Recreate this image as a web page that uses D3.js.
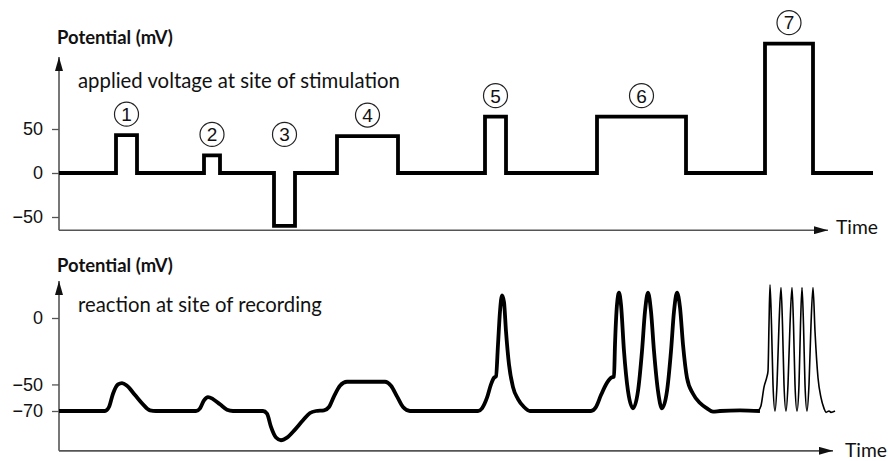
<!DOCTYPE html>
<html>
<head>
<meta charset="utf-8">
<script src="https://cdn.jsdelivr.net/npm/d3@7"></script>
<style>
  body { margin: 0; background: #fff; }
  text { fill: #111; }
</style>
</head>
<body>
<script>
// stimulation pulses: start / end (time units from origin) and level (mV)
const pulseStart = [57, 145, 215, 278, 426, 538, 706];
const pulseEnd   = [78, 161, 236, 339, 447, 627, 754];
const pulseLevel = [43, 20, -60, 42, 64, 64, 147];
const pulseLabels = ["1", "2", "3", "4", "5", "6", "7"];
const stimEnd = 814;

const topTicks = [50, 0, -50];
const bottomTicks = [0, -50, -70];

// recorded membrane potential [time, mV]
const responseTrace = [
  [0,-70],[46,-70],[50,-67],[54,-57],[59,-50],[63,-49],[68,-51],[76,-58],[84,-65],[91,-69.5],[97,-70],
  [137,-70],[141,-68],[145,-62],[149,-59.5],[154,-61],[161,-65],[168,-69],[174,-70],
  [204,-70],[208,-72],[212,-82],[217,-90],[222,-92],[228,-90],[236,-84],[244,-77],[251,-71.5],[257,-70],
  [265,-69.5],[270,-67],[275,-59],[281,-51],[288,-48],
  [326,-48],[332,-51],[338,-59],[344,-67],[351,-70],
  [419,-70],[423,-68],[428,-60],[432,-50],[435,-45],[437,-44],[439,-20],[441,5],[443,17],[445,12],
  [447,-10],[450,-35],[454,-52],[459,-61],[465,-67],[471,-70],
  [532,-70],[537,-67],[542,-58],[547,-50],[552,-45],[555,-44],[556,-20],[558,10],[560,19],[562,10],
  [565,-25],[569,-55],[574,-68],[579,-55],[583,-25],[586,5],[589,19],[592,5],[595,-25],[599,-55],
  [603,-68],[608,-55],[612,-25],[615,5],[618,19],[621,8],[624,-20],[628,-45],[634,-57],[641,-64],
  [648,-68],[654,-70.5],[661,-70],[681,-69.5],[701,-70]
];

// high-frequency burst for stimulus 7 [time, mV]
const burstTrace = [
  [699,-70],[702,-66],[705,-52],[708,-44],[709,-40],[710,-5],[711,25],[712.5,-5],[714,-50],[716,-70],
  [718,-50],[720,-5],[722,23],[723.5,-5],[725,-50],[727,-70],[729,-50],[731,-5],[733,23],[734.5,-5],
  [736,-50],[738,-70],[740,-50],[741.5,-5],[743,23],[744.5,-5],[746,-50],[748,-70],[750,-50],[752,-5],
  [754,23],[756,-10],[759,-45],[762,-60],[765,-68],[767,-71],[770,-70],[772,-71],[776,-70]
];

const W = 888, H = 461;
const svg = d3.select("body").append("svg")
    .attr("width", W)
    .attr("height", H)
    .style("font-family", "Lato, 'Open Sans', sans-serif");

svg.append("defs").append("marker")
    .attr("id", "arrow")
    .attr("viewBox", "0 0 14 8")
    .attr("refX", 14).attr("refY", 4)
    .attr("markerWidth", 14).attr("markerHeight", 8)
    .attr("markerUnits", "userSpaceOnUse")
    .attr("orient", "auto")
    .append("path")
    .attr("d", "M0,0 L14,4 L0,8 Z")
    .attr("fill", "#111");

// scales
const x = d3.scaleLinear().domain([0, 770]).range([59, 829]);
const yTop = d3.scaleLinear().domain([-50, 50]).range([217, 129]);
const yBot = d3.scaleLinear().domain([-70, 0]).range([411, 318]);

// fit a text element to a target width
function fitText(sel, width, base) {
    sel.style("font-size", base + "px");
    const w = sel.node().getComputedTextLength();
    sel.style("font-size", (base * width / w).toFixed(2) + "px");
}

function drawPanel(y, yMin, yTip, xEnd, ticks, title, titleY, note, noteY, noteW, timeX, timeY) {
    const g = svg.append("g");
    const x0 = x(0), yb = y(yMin);

    // axis lines with arrows
    g.append("line")
        .attr("x1", x0).attr("y1", yb).attr("x2", x0).attr("y2", yTip)
        .attr("stroke", "#555").attr("stroke-width", 1.6)
        .attr("marker-end", "url(#arrow)");
    g.append("line")
        .attr("x1", x0).attr("y1", yb).attr("x2", xEnd).attr("y2", yb)
        .attr("stroke", "#555").attr("stroke-width", 1.6)
        .attr("marker-end", "url(#arrow)");

    // ticks
    const axis = g.append("g")
        .attr("transform", "translate(" + x0 + ",0)")
        .call(d3.axisLeft(y).tickValues(ticks).tickSize(7).tickPadding(9));
    axis.select(".domain").remove();
    axis.selectAll(".tick line").attr("stroke", "#555").attr("stroke-width", 1.3);
    axis.selectAll(".tick text")
        .style("font-family", "'Liberation Sans', Arial, sans-serif")
        .style("font-size", "18px")
        .attr("fill", "#222");

    const t = g.append("text")
        .attr("x", 57).attr("y", titleY)
        .style("font-weight", "bold")
        .text(title);
    fitText(t, 116, 16);

    const n = g.append("text")
        .attr("x", 78).attr("y", noteY)
        .text(note);
    fitText(n, noteW, 20);

    const tm = g.append("text")
        .attr("x", timeX).attr("y", timeY)
        .text("Time");
    fitText(tm, 42, 20);
    return g;
}

drawPanel(yTop, -65, 57, 828, topTicks, "Potential (mV)", 44,
    "applied voltage at site of stimulation", 88, 322, 836, 234);
drawPanel(yBot, -100, 281, 833, bottomTicks, "Potential (mV)", 272,
    "reaction at site of recording", 312, 244, 845, 457);

// stimulus step trace
const stimPts = [[0, 0]];
pulseStart.forEach((s, i) => {
    stimPts.push([s, 0], [s, pulseLevel[i]], [pulseEnd[i], pulseLevel[i]], [pulseEnd[i], 0]);
});
stimPts.push([stimEnd, 0]);

svg.append("path")
    .datum(stimPts)
    .attr("fill", "none")
    .attr("stroke", "#000")
    .attr("stroke-width", 3.8)
    .attr("stroke-linejoin", "miter")
    .attr("d", d3.line().x(d => x(d[0])).y(d => yTop(d[1])));

// circled stimulus numbers
const lab = svg.append("g").selectAll("g")
    .data(pulseLabels)
    .join("g")
    .attr("transform", (d, i) => {
        const cx = x((pulseStart[i] + pulseEnd[i]) / 2);
        const cy = yTop(Math.max(pulseLevel[i], 20)) - 21;
        return "translate(" + cx + "," + cy + ")";
    });
lab.append("circle")
    .attr("r", 12)
    .attr("fill", "none")
    .attr("stroke", "#222")
    .attr("stroke-width", 1.2);
lab.append("text")
    .attr("text-anchor", "middle")
    .attr("dy", "0.36em")
    .style("font-family", "'Liberation Sans', Arial, sans-serif")
    .style("font-size", "19px")
    .text(d => d);

// recorded response
const respLine = d3.line()
    .x(d => x(d[0]))
    .y(d => yBot(d[1]))
    .curve(d3.curveMonotoneX);

svg.append("path")
    .datum(responseTrace)
    .attr("fill", "none")
    .attr("stroke", "#000")
    .attr("stroke-width", 3.8)
    .attr("d", respLine);

svg.append("path")
    .datum(burstTrace)
    .attr("fill", "none")
    .attr("stroke", "#000")
    .attr("stroke-width", 1.6)
    .attr("d", respLine);
</script>
</body>
</html>
